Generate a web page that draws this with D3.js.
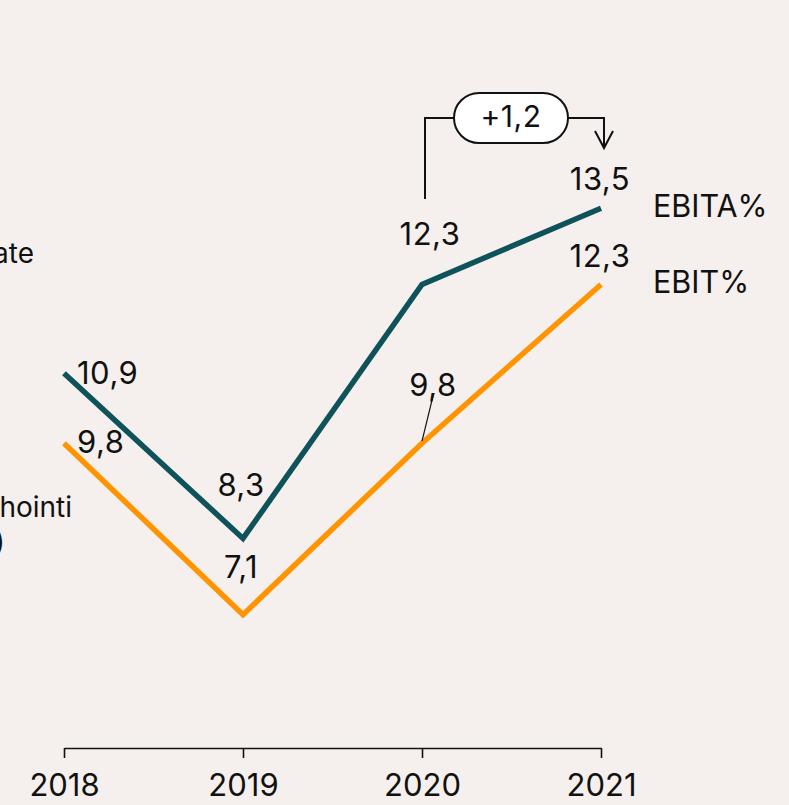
<!DOCTYPE html>
<html>
<head>
<meta charset="utf-8">
<title>EBITA% ja EBIT%</title>
<script src="https://cdn.jsdelivr.net/npm/d3@7"></script>
<style>
  html, body { margin: 0; padding: 0; background: #f5f0ed; }
  svg { display: block; font-family: Inter, "Noto Sans", sans-serif; }
  text { fill: #111; }
</style>
</head>
<body>
<div id="chart"></div>
<script>
var years = ["2018", "2019", "2020", "2021"];
var ebita = [10.9, 8.3, 12.3, 13.5];
var ebit = [9.8, 7.1, 9.8, 12.3];
var seriesNames = ["EBITA%", "EBIT%"];
var deltaLabel = "+1,2";
var sideTexts = ["ate", "hointi", ")"];

var W = 789, H = 805;
var svg = d3.select("#chart").append("svg")
    .attr("width", W)
    .attr("height", H);

svg.append("rect").attr("width", W).attr("height", H).attr("fill", "#f5f0ed");

var x = d3.scalePoint().domain(years).range([64, 601]);
var y = d3.scaleLinear().domain([5, 13.5]).range([748, 208.25]);

var fmt = function(v) { return d3.format(".1f")(v).replace(".", ","); };

// x axis
var axis = svg.append("g")
    .attr("transform", "translate(0,748)")
    .call(d3.axisBottom(x).tickSize(10).tickSizeOuter(0).tickPadding(16));
axis.select(".domain").attr("stroke", "#111").attr("stroke-width", 1.6);
axis.selectAll(".tick line").attr("stroke", "#111").attr("stroke-width", 1.6);
axis.selectAll(".tick text")
    .attr("font-size", 31)
    .attr("font-family", "Inter, sans-serif")
    .attr("fill", "#111")
    .attr("dy", "0.72em");

// texts cut off by the left edge (as in the original)
svg.append("text").attr("x", 34).attr("y", 263).attr("text-anchor", "end")
    .attr("font-size", 28).text(sideTexts[0]);
svg.append("text").attr("x", 72).attr("y", 517).attr("text-anchor", "end")
    .attr("font-size", 28).text(sideTexts[1]);
svg.append("text").attr("x", 5).attr("y", 551).attr("text-anchor", "end")
    .attr("font-size", 28).text(sideTexts[2]);

var line = d3.line()
    .x(function(d, i) { return x(years[i]); })
    .y(function(d) { return y(d); });

svg.append("path").datum(ebit)
    .attr("d", line)
    .attr("fill", "none")
    .attr("stroke", "#ff9400")
    .attr("stroke-width", 5.5);

svg.append("path").datum(ebita)
    .attr("d", line)
    .attr("fill", "none")
    .attr("stroke", "#0e525a")
    .attr("stroke-width", 5.5);

// value labels: offsets relative to each point
var ebitaOff = [{ dx: 13, dy: 11, a: "start" }, { dx: -2, dy: -42, a: "middle" },
                { dx: 8, dy: -39, a: "middle" }, { dx: -1, dy: -18, a: "middle" }];
var ebitOff = [{ dx: 13, dy: 10, a: "start" }, { dx: -2, dy: -37, a: "middle" },
               { dx: 11, dy: -47, a: "middle" }, { dx: -1, dy: -17, a: "middle" }];

function labels(cls, vals, off) {
    svg.selectAll("." + cls)
        .data(vals)
        .enter().append("text")
            .attr("class", cls)
            .attr("x", function(d, i) { return x(years[i]) + off[i].dx; })
            .attr("y", function(d, i) { return y(d) + off[i].dy; })
            .attr("text-anchor", function(d, i) { return off[i].a; })
            .attr("font-size", 31)
            .attr("letter-spacing", 0.5)
            .text(function(d) { return fmt(d); });
}
labels("lbl-ebita", ebita, ebitaOff);
labels("lbl-ebit", ebit, ebitOff);

// leader for the 2020 EBIT label
svg.append("line")
    .attr("x1", x("2020") + 11).attr("y1", y(ebit[2]) - 47)
    .attr("x2", x("2020")).attr("y2", y(ebit[2]) - 2)
    .attr("stroke", "#111").attr("stroke-width", 1.2);

// series names
svg.append("text").attr("x", 653).attr("y", y(ebita[3]) + 9)
    .attr("font-size", 30.5).text(seriesNames[0]);
svg.append("text").attr("x", 653).attr("y", y(ebit[3]) + 9)
    .attr("font-size", 30.5).text(seriesNames[1]);

// difference bracket 2020 -> 2021
var bx1 = x("2020") + 3, bx2 = x("2021") + 3, by = 118;
var pill = { x: 454, w: 114, h: 50 };
svg.append("path")
    .attr("d", "M" + bx1 + "," + 199 + "V" + by + "H" + pill.x +
               "M" + (pill.x + pill.w) + "," + by + "H" + bx2 + "V" + 148)
    .attr("fill", "none").attr("stroke", "#111").attr("stroke-width", 2);
svg.append("path")
    .attr("d", "M" + (bx2 - 9) + ",131L" + bx2 + ",148L" + (bx2 + 9) + ",131")
    .attr("fill", "none").attr("stroke", "#111").attr("stroke-width", 2);
svg.append("rect")
    .attr("x", pill.x).attr("y", by - pill.h / 2)
    .attr("width", pill.w).attr("height", pill.h)
    .attr("rx", pill.h / 2)
    .attr("fill", "#fff").attr("stroke", "#111").attr("stroke-width", 2);
svg.append("text")
    .attr("x", pill.x + pill.w / 2).attr("y", by + 9)
    .attr("text-anchor", "middle").attr("font-size", 30)
    .attr("letter-spacing", 0.5)
    .text(deltaLabel);
</script>
</body>
</html>
